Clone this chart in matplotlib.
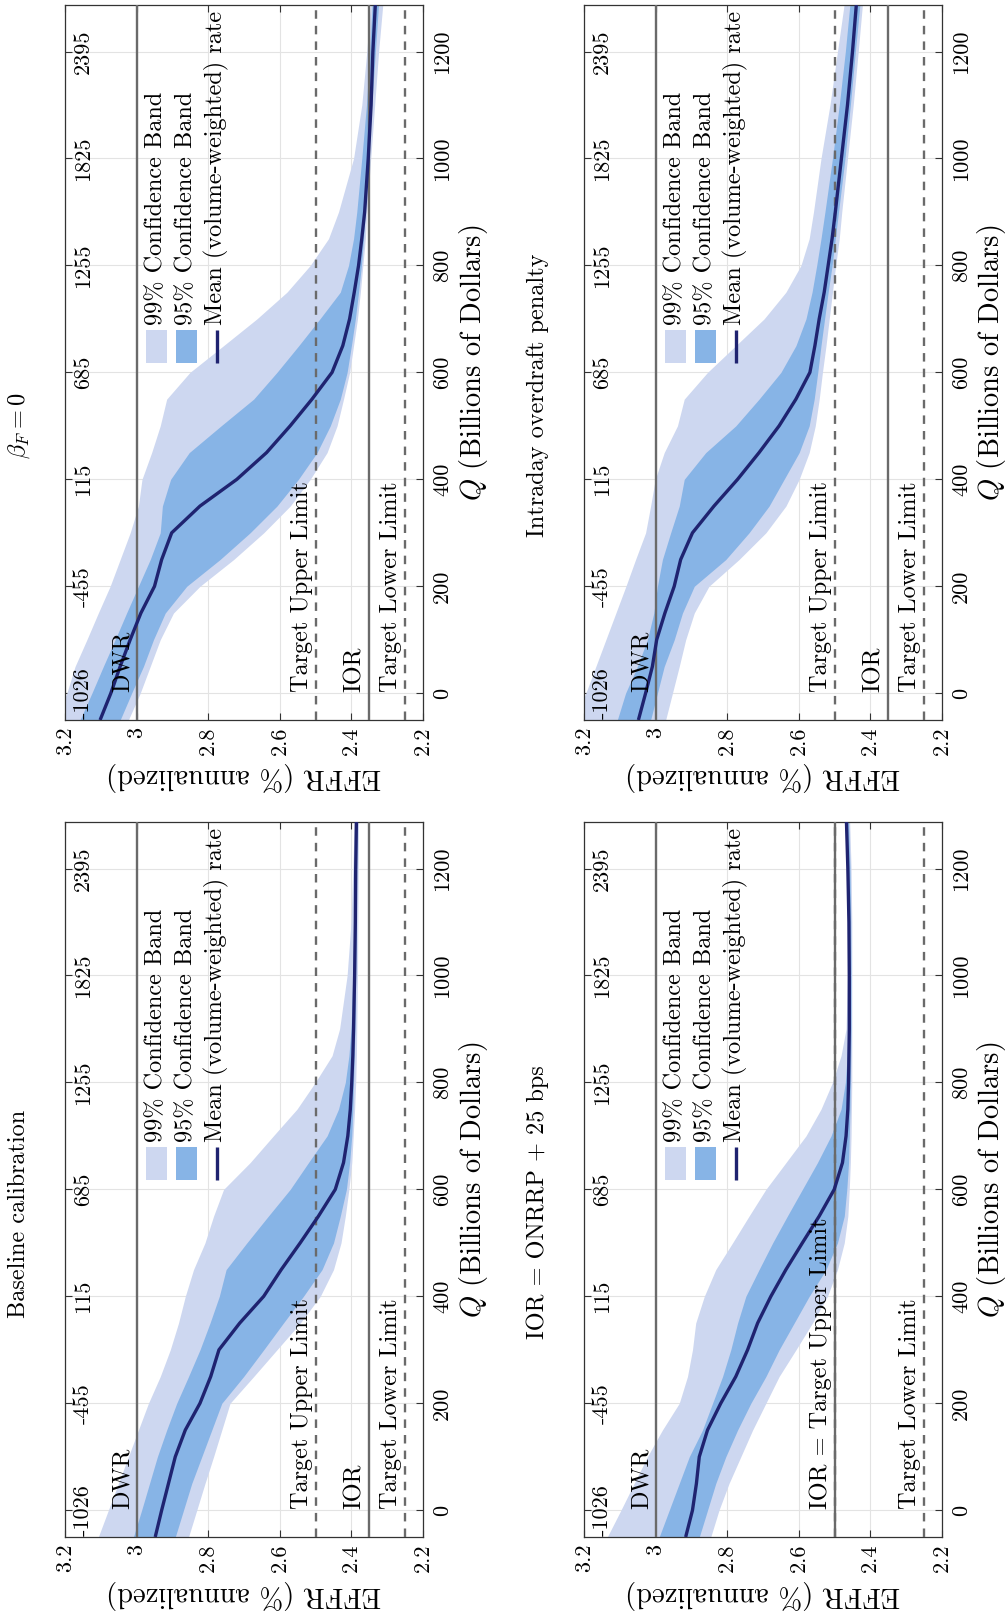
import matplotlib
matplotlib.use("Agg")
import matplotlib.pyplot as plt
from matplotlib.patches import Rectangle

plt.rcParams['font.family'] = ['cmr10', 'DejaVu Serif']
plt.rcParams['mathtext.fontset'] = 'cm'
plt.rcParams['axes.unicode_minus'] = False
plt.rcParams['axes.formatter.use_mathtext'] = True

# ---------------- data ----------------
Q = [-50, 0, 50, 100, 150, 200, 250, 300, 350, 400, 450, 500, 550, 600,
     650, 700, 750, 800, 850, 900, 1000, 1100, 1200, 1290]

Q_TICKS = [0, 200, 400, 600, 800, 1000, 1200]
Q_TICKLABELS = ['0', '200', '400', '600', '800', '1000', '1200']
RESERVE_LABELS = ['-1026', '-455', '115', '685', '1255', '1825', '2395']
EFFR_TICKS = [3.2, 3.0, 2.8, 2.6, 2.4, 2.2]
EFFR_TICKLABELS = ['3.2', '3', '2.8', '2.6', '2.4', '2.2']

TITLES = ['Baseline calibration', r'$\beta_F = 0$',
          'IOR = ONRRP + 25 bps', 'Intraday overdraft penalty']

# Baseline calibration
base_mean = [2.948, 2.930, 2.911, 2.892, 2.864, 2.823, 2.793, 2.770, 2.712, 2.645, 2.596, 2.543,
             2.492, 2.445, 2.422, 2.410, 2.403, 2.399, 2.396, 2.394, 2.391, 2.389, 2.388, 2.386]
base_hi95 = [3.009, 2.986, 2.964, 2.942, 2.916, 2.888, 2.855, 2.823, 2.795, 2.769, 2.750, 2.692,
             2.632, 2.571, 2.520, 2.468, 2.436, 2.417, 2.407, 2.401, 2.396, 2.393, 2.391, 2.390]
base_lo95 = [2.892, 2.869, 2.846, 2.818, 2.790, 2.762, 2.701, 2.645, 2.590, 2.534, 2.482, 2.450,
             2.431, 2.414, 2.405, 2.399, 2.396, 2.394, 2.392, 2.390, 2.388, 2.386, 2.385, 2.383]
base_hi99 = [3.107, 3.079, 3.051, 3.023, 2.995, 2.967, 2.934, 2.906, 2.883, 2.864, 2.841, 2.809,
             2.785, 2.757, 2.683, 2.618, 2.552, 2.501, 2.454, 2.433, 2.412, 2.401, 2.396, 2.392]
base_lo99 = [2.855, 2.832, 2.809, 2.785, 2.762, 2.739, 2.673, 2.608, 2.543, 2.487, 2.450, 2.429,
             2.417, 2.407, 2.399, 2.395, 2.391, 2.388, 2.386, 2.385, 2.383, 2.382, 2.381, 2.380]

# beta_F = 0
bf_mean = [3.102, 3.072, 3.046, 3.018, 2.988, 2.950, 2.930, 2.902, 2.823, 2.720, 2.637, 2.571,
           2.510, 2.454, 2.424, 2.405, 2.392, 2.380, 2.371, 2.363, 2.353, 2.345, 2.340, 2.333]
bf_hi95 = [3.158, 3.125, 3.093, 3.060, 3.028, 2.995, 2.962, 2.934, 2.928, 2.905, 2.853, 2.764,
           2.673, 2.608, 2.547, 2.488, 2.431, 2.408, 2.394, 2.385, 2.371, 2.358, 2.349, 2.342]
bf_lo95 = [3.046, 3.014, 2.981, 2.953, 2.920, 2.860, 2.767, 2.683, 2.608, 2.548, 2.496, 2.459,
           2.431, 2.412, 2.400, 2.389, 2.380, 2.372, 2.366, 2.361, 2.352, 2.343, 2.333, 2.324]
bf_hi99 = [3.230, 3.195, 3.172, 3.139, 3.107, 3.074, 3.046, 3.018, 2.995, 2.985, 2.958, 2.934,
           2.916, 2.851, 2.757, 2.664, 2.580, 2.515, 2.464, 2.436, 2.394, 2.371, 2.357, 2.347]
bf_lo99 = [3.023, 2.990, 2.962, 2.934, 2.897, 2.823, 2.729, 2.645, 2.571, 2.515, 2.468, 2.440,
           2.422, 2.405, 2.394, 2.383, 2.375, 2.368, 2.361, 2.357, 2.346, 2.335, 2.324, 2.312]

# IOR = ONRRP + 25 bps
ior_mean = [2.916, 2.897, 2.886, 2.878, 2.855, 2.818, 2.776, 2.743, 2.715, 2.678, 2.636, 2.590,
            2.543, 2.501, 2.478, 2.468, 2.463, 2.461, 2.460, 2.459, 2.459, 2.460, 2.463, 2.467]
ior_hi95 = [2.990, 2.962, 2.934, 2.906, 2.869, 2.841, 2.813, 2.790, 2.771, 2.748, 2.711, 2.673,
            2.632, 2.590, 2.548, 2.510, 2.482, 2.470, 2.465, 2.463, 2.462, 2.463, 2.466, 2.470]
ior_lo95 = [2.878, 2.855, 2.832, 2.804, 2.771, 2.734, 2.692, 2.655, 2.613, 2.571, 2.524, 2.492,
            2.473, 2.466, 2.461, 2.459, 2.457, 2.456, 2.455, 2.454, 2.454, 2.455, 2.457, 2.461]
ior_hi99 = [3.135, 3.097, 3.060, 3.023, 2.981, 2.934, 2.911, 2.897, 2.888, 2.864, 2.832, 2.785,
            2.739, 2.692, 2.636, 2.580, 2.538, 2.506, 2.482, 2.468, 2.464, 2.464, 2.467, 2.471]
ior_lo99 = [2.846, 2.823, 2.795, 2.762, 2.729, 2.692, 2.655, 2.608, 2.562, 2.520, 2.492, 2.473,
            2.463, 2.459, 2.456, 2.454, 2.453, 2.452, 2.452, 2.452, 2.452, 2.452, 2.454, 2.458]

# Intraday overdraft penalty
id_mean = [3.048, 3.028, 3.009, 2.997, 2.974, 2.948, 2.930, 2.897, 2.837, 2.771, 2.711, 2.655,
           2.608, 2.569, 2.555, 2.543, 2.529, 2.518, 2.507, 2.498, 2.481, 2.464, 2.450, 2.439]
id_hi95 = [3.107, 3.084, 3.051, 3.023, 3.005, 2.995, 2.981, 2.958, 2.934, 2.920, 2.860, 2.776,
           2.711, 2.650, 2.608, 2.580, 2.563, 2.550, 2.538, 2.527, 2.506, 2.487, 2.470, 2.457]
id_lo95 = [3.014, 2.995, 2.976, 2.948, 2.925, 2.892, 2.804, 2.739, 2.683, 2.641, 2.599, 2.571,
           2.557, 2.547, 2.538, 2.528, 2.518, 2.507, 2.498, 2.489, 2.471, 2.456, 2.442, 2.429]
id_hi99 = [3.230, 3.195, 3.167, 3.139, 3.111, 3.083, 3.056, 3.028, 3.014, 3.001, 2.976, 2.939,
           2.920, 2.855, 2.776, 2.697, 2.636, 2.594, 2.571, 2.559, 2.538, 2.513, 2.492, 2.473]
id_lo99 = [2.972, 2.953, 2.934, 2.916, 2.892, 2.851, 2.767, 2.692, 2.636, 2.599, 2.571, 2.554,
           2.543, 2.534, 2.524, 2.515, 2.506, 2.497, 2.487, 2.480, 2.464, 2.448, 2.434, 2.422]

# reference rates
DWR = 3.0
TARGET_UPPER = 2.5
IOR = 2.35
TARGET_LOWER = 2.25
IOR_HIGH = 2.5

LEGEND_LABELS = ['99% Confidence Band', '95% Confidence Band', 'Mean (volume-weighted) rate']

# ---------------- style ----------------
W, H = 1007, 1618
LIGHT = '#cdd7f0'
DARK = '#87b4e6'
NAVY = '#1f2370'
REF = '#6a6a6a'
GRID = '#e3e3e3'

fig = plt.figure(figsize=(W / 100, H / 100), dpi=100)
fig.patch.set_facecolor('white')

AX_W, AX_H = 358, 715
panels = [
    dict(left=65, top=822, data=(base_mean, base_hi95, base_lo95, base_hi99, base_lo99),
         title=TITLES[0], tpos=(19, 1214), kind='normal'),
    dict(left=65, top=5, data=(bf_mean, bf_hi95, bf_lo95, bf_hi99, bf_lo99),
         title=TITLES[1], tpos=(19, 426), kind='normal'),
    dict(left=584, top=822, data=(ior_mean, ior_hi95, ior_lo95, ior_hi99, ior_lo99),
         title=TITLES[2], tpos=(538, 1202), kind='ior'),
    dict(left=584, top=5, data=(id_mean, id_hi95, id_lo95, id_hi99, id_lo99),
         title=TITLES[3], tpos=(538, 395), kind='normal'),
]

TXT_LINE = 17.5
TICK = 16
LEG = 17.5
LABEL = 20.5

for p in panels:
    l, t = p['left'], p['top']
    ax = fig.add_axes([l / W, 1 - (t + AX_H) / H, AX_W / W, AX_H / H])
    mean, hi95, lo95, hi99, lo99 = p['data']
    ax.set_xlim(3.2, 2.2)
    ax.set_ylim(-50, 1287)
    ax.set_axisbelow(True)
    ax.grid(True, color=GRID, lw=0.8)

    ax.fill_betweenx(Q, lo99, hi99, color=LIGHT, lw=0, zorder=1)
    ax.fill_betweenx(Q, lo95, hi95, color=DARK, lw=0, zorder=2)

    dash = (0, (3.6, 3.0))
    ax.axvline(DWR, color=REF, lw=1.7, zorder=3)
    if p['kind'] == 'ior':
        ax.axvline(IOR_HIGH, color=REF, lw=1.7, zorder=3)
        ax.axvline(IOR_HIGH, color=REF, lw=1.7, ls=dash, zorder=3)
        ax.axvline(TARGET_LOWER, color=REF, lw=1.7, ls=dash, zorder=3)
        labels = [(DWR, 'DWR'), (IOR_HIGH, 'IOR = Target Upper Limit'),
                  (TARGET_LOWER, 'Target Lower Limit')]
    else:
        ax.axvline(TARGET_UPPER, color=REF, lw=1.7, ls=dash, zorder=3)
        ax.axvline(IOR, color=REF, lw=1.7, zorder=3)
        ax.axvline(TARGET_LOWER, color=REF, lw=1.7, ls=dash, zorder=3)
        labels = [(DWR, 'DWR'), (TARGET_UPPER, 'Target Upper Limit'),
                  (IOR, 'IOR'), (TARGET_LOWER, 'Target Lower Limit')]

    ax.plot(mean, Q, color=NAVY, lw=2.4, zorder=4, solid_capstyle='butt')

    for xv, txt in labels:
        ax.annotate(txt, xy=(xv, 3), xytext=(-3, 0), textcoords='offset pixels',
                    rotation=90, ha='right', va='bottom', fontsize=TXT_LINE, zorder=5)

    # ticks
    ax.set_xticks(EFFR_TICKS)
    ax.set_xticklabels(EFFR_TICKLABELS)
    ax.set_yticks(Q_TICKS)
    ax.set_yticklabels(Q_TICKLABELS)
    ax.tick_params(axis='both', direction='in', length=5, width=0.8, color='#333333',
                   top=True, right=True, left=True, bottom=True, labelsize=TICK)
    ax.tick_params(axis='x', labelrotation=90, pad=5)
    ax.tick_params(axis='y', labelleft=False, labelright=True, labelrotation=90, pad=7)
    for lab in ax.get_yticklabels():
        lab.set_va('center')
    for s in ax.spines.values():
        s.set_color('#333333')
        s.set_linewidth(0.9)

    # inner reserve labels (original top axis)
    for q, lab in zip(Q_TICKS, RESERVE_LABELS):
        ax.text(0.05, q, lab, transform=ax.get_yaxis_transform(), rotation=90,
                ha='center', va='center', fontsize=TICK, zorder=6)

    # legend (drawn manually, rotated)
    px = [0.226, 0.310]
    cols = [LIGHT, DARK]
    for x0, c in zip(px, cols):
        ax.add_patch(Rectangle((x0, 0.500), 0.058, 0.046, transform=ax.transAxes,
                               facecolor=c, edgecolor='none', zorder=6))
    ax.plot([0.424, 0.424], [0.500, 0.546], transform=ax.transAxes, color=NAVY,
            lw=2.4, zorder=6, solid_capstyle='butt')
    for xc, txt in zip([0.255, 0.339, 0.424], LEGEND_LABELS):
        ax.text(xc, 0.552, txt, transform=ax.transAxes, rotation=90, ha='center',
                va='bottom', fontsize=LEG, zorder=6)

    # axis labels
    fig.text((l + AX_W / 2) / W, 1 - (t + AX_H + 57) / H, 'EFFR (% annualized)',
             rotation=180, ha='center', va='center', fontsize=LABEL)
    fig.text((l + AX_W + 50) / W, 1 - (t + AX_H / 2) / H, r'$Q$ (Billions of Dollars)',
             rotation=90, ha='center', va='center', fontsize=LABEL)
    fig.text(p['tpos'][0] / W, 1 - p['tpos'][1] / H, p['title'], rotation=90,
             ha='center', va='center', fontsize=17.5)

fig.savefig('out.png', dpi=100, facecolor='white')
